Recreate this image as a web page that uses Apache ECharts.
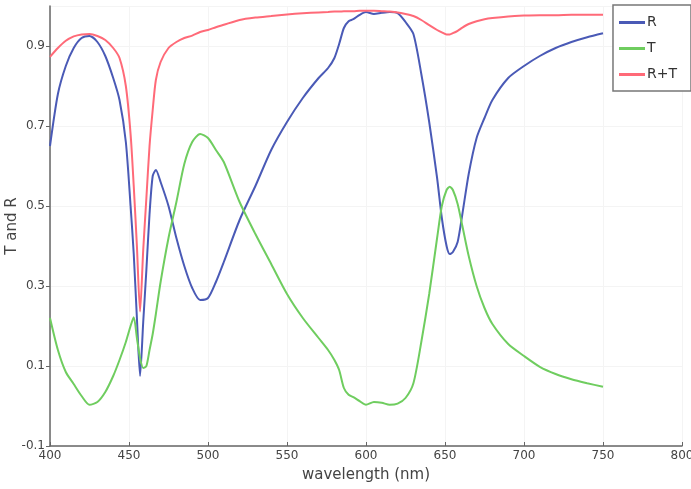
<!DOCTYPE html>
<html lang="en">
<head>
    <meta charset="UTF-8">
    <title>T and R spectrum</title>
    <script src="https://cdn.jsdelivr.net/npm/echarts@6/dist/echarts.min.js"></script>
    <style>
        html, body, #chart {
            width: 691px;
            height: 489px;
            padding: 0;
            margin: 0;
            background: #fff;
        }
    </style>
</head>
<body>
<div id="chart"></div>
<script>
    // wavelength samples (nm), shared by the three curves
    var wavelength = [400, 405, 410, 415, 420, 425, 430, 435, 440, 444, 448, 451, 453, 455, 457, 459, 461, 463, 465, 467,
        470, 475, 480, 485, 490, 495, 500, 505, 510, 520, 530, 540, 550, 560, 570, 576, 580, 583, 586, 589,
        592, 596, 600, 605, 610, 615, 620, 625, 630, 635, 640, 645, 648, 651, 653, 655, 658, 661, 665, 670,
        675, 680, 690, 700, 710, 720, 730, 740, 750];

    var reflect = [0.65, 0.78, 0.85, 0.895, 0.92, 0.925, 0.91, 0.875, 0.82, 0.765, 0.66, 0.50, 0.38, 0.22, 0.075, 0.21, 0.34, 0.48, 0.575, 0.59,
        0.56, 0.50, 0.42, 0.35, 0.295, 0.265, 0.27, 0.31, 0.36, 0.465, 0.55, 0.64, 0.71, 0.77, 0.82, 0.845, 0.87, 0.905, 0.945, 0.962,
        0.967, 0.978, 0.985, 0.98, 0.983, 0.985, 0.982, 0.96, 0.93, 0.83, 0.71, 0.57, 0.47, 0.40, 0.38, 0.385, 0.41, 0.48, 0.58, 0.67,
        0.72, 0.765, 0.82, 0.85, 0.875, 0.895, 0.91, 0.922, 0.932];

    var transmit = [0.22, 0.14, 0.085, 0.055, 0.025, 0.003, 0.01, 0.035, 0.075, 0.115, 0.16, 0.20, 0.222, 0.17, 0.12, 0.095, 0.10, 0.14, 0.18, 0.23,
        0.31, 0.42, 0.51, 0.605, 0.66, 0.68, 0.67, 0.64, 0.61, 0.51, 0.43, 0.355, 0.28, 0.22, 0.17, 0.14, 0.115, 0.09, 0.045, 0.028,
        0.022, 0.012, 0.003, 0.01, 0.008, 0.003, 0.006, 0.02, 0.057, 0.16, 0.28, 0.42, 0.50, 0.54, 0.548, 0.54, 0.505, 0.45, 0.375, 0.30,
        0.245, 0.205, 0.155, 0.125, 0.098, 0.08, 0.067, 0.057, 0.048];

    var total = [0.873, 0.895, 0.913, 0.924, 0.929, 0.93, 0.925, 0.915, 0.895, 0.87, 0.80, 0.68, 0.55, 0.40, 0.236, 0.39, 0.52, 0.65, 0.74, 0.815,
        0.86, 0.895, 0.91, 0.92, 0.926, 0.935, 0.94, 0.947, 0.953, 0.965, 0.971, 0.975, 0.979, 0.982, 0.984, 0.985, 0.986, 0.986, 0.987, 0.987,
        0.987, 0.988, 0.988, 0.988, 0.987, 0.986, 0.984, 0.98, 0.975, 0.965, 0.952, 0.94, 0.934, 0.929, 0.929, 0.932, 0.938, 0.946, 0.955, 0.962,
        0.967, 0.97, 0.974, 0.976, 0.977, 0.977, 0.978, 0.978, 0.978];

    var seriesNames = ["R", "T", "R+T"];
    var seriesColors = ["#4a5ab6", "#6fcd5f", "#ff6a78"];

    function pairs(values) {
        return wavelength.map(function (w, i) {
            return [w, values[i]];
        });
    }

    var font = "DejaVu Sans";
    var chart = echarts.init(document.getElementById("chart"));

    chart.setOption({
        animation: false,
        backgroundColor: "#fff",
        grid: {left: 50, right: 9, top: 6, bottom: 43, containLabel: false, outerBoundsMode: "none"},
        legend: {
            orient: "vertical",
            right: 0,
            top: 5,
            padding: [9, 14, 8, 6],
            icon: "rect",
            itemWidth: 26,
            itemHeight: 3,
            itemGap: 9,
            borderColor: "#777",
            borderWidth: 1.5,
            backgroundColor: "#fff",
            textStyle: {fontFamily: font, fontSize: 14, color: "#333", padding: [0, 0, 0, -3], lineHeight: 17},
            data: seriesNames
        },
        xAxis: {
            type: "value",
            min: 400,
            max: 800,
            interval: 50,
            name: "wavelength (nm)",
            nameLocation: "middle",
            nameGap: 22,
            nameMoveOverlap: false,
            nameTextStyle: {fontFamily: font, fontSize: 15, color: "#444"},
            axisLine: {onZero: false, lineStyle: {color: "#666", width: 1.5}},
            axisTick: {inside: true, length: 4, lineStyle: {color: "#666"}},
            axisLabel: {fontFamily: font, fontSize: 12, color: "#444", margin: 4},
            splitLine: {show: true, lineStyle: {color: "#f4f4f4"}}
        },
        yAxis: {
            type: "value",
            min: -0.1,
            max: 1.0,
            interval: 0.2,
            name: "T and R",
            nameLocation: "middle",
            nameGap: 30,
            nameMoveOverlap: false,
            nameTextStyle: {fontFamily: font, fontSize: 15, color: "#444"},
            axisLine: {show: true, onZero: false, lineStyle: {color: "#666", width: 1.5}},
            axisTick: {show: true, length: 4, lineStyle: {color: "#666"}},
            axisLabel: {
                fontFamily: font, fontSize: 12, color: "#444", margin: 5, showMaxLabel: false,
                formatter: function (v) { return (Math.round(v * 10) / 10).toString(); }
            },
            splitLine: {show: true, lineStyle: {color: "#f4f4f4"}}
        },
        series: [reflect, transmit, total].map(function (vals, i) {
            return {
                name: seriesNames[i],
                type: "line",
                symbol: "none",
                smooth: 0.25,
                data: pairs(vals),
                lineStyle: {color: seriesColors[i], width: 2},
                itemStyle: {color: seriesColors[i]}
            };
        })
    });
</script>
</body>
</html>
